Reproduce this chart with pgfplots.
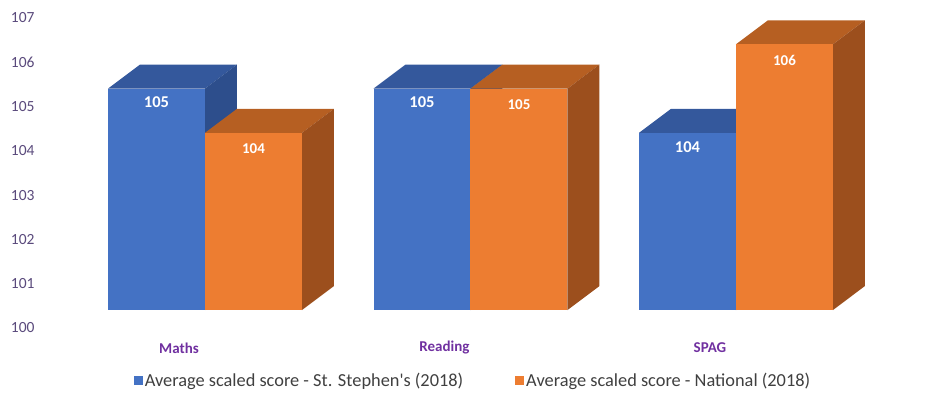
\documentclass[border=0pt]{standalone}
\usepackage{pgfplots}
\pgfplotsset{compat=1.18}
\usepackage{fontspec}
\setmainfont{Carlito}
\definecolor{bfront}{HTML}{4472C4}
\definecolor{btop}{HTML}{34589C}
\definecolor{bside}{HTML}{2D4E8C}
\definecolor{ofront}{HTML}{ED7D31}
\definecolor{otop}{HTML}{B65F22}
\definecolor{oside}{HTML}{9C4F1D}
\definecolor{ticklab}{HTML}{5A4A7C}
\definecolor{catlab}{HTML}{7030A0}
\definecolor{legtext}{HTML}{404040}
% geometry of the 3-D bars (axis units)
\def\bw{0.3653}   % bar width
\def\dx{0.1205}   % depth, x
\def\dy{0.542}    % depth, y
\def\off{0.406}   % front face offset of floor
\pgfplotsset{
  bluetop/.style={fill=btop,draw=none,forget plot},
  blueside/.style={fill=bside,draw=none,forget plot},
  bluefront/.style={fill=bfront,draw=none,forget plot},
  orangetop/.style={fill=otop,draw=none,forget plot},
  orangeside/.style={fill=oside,draw=none,forget plot},
  orangefront/.style={fill=ofront,draw=none,forget plot},
  bluelbl/.style={draw=none,mark=none,forget plot,point meta=explicit symbolic,
    nodes near coords,nodes near coords style={anchor=center,yshift=-14pt,text=white,
    font=\bfseries\fontsize{16.5}{18}\selectfont}},
  orangelbl/.style={draw=none,mark=none,forget plot,point meta=explicit symbolic,
    nodes near coords,nodes near coords style={anchor=center,yshift=-16pt,text=white,
    font=\bfseries\fontsize{15}{17}\selectfont}},
}
% #1 category index, #2 series (0 or 1), #3 value, #4 colour name
\newcommand{\tdbar}[4]{%
  \pgfmathsetmacro\xl{#1+(#2-1)*\bw}%
  \pgfmathsetmacro\xr{\xl+\bw}%
  \pgfmathsetmacro\yb{100+\off}%
  \pgfmathsetmacro\yt{#3+\off}%
  \pgfmathsetmacro\xlb{\xl+\dx}%
  \pgfmathsetmacro\xrb{\xr+\dx}%
  \pgfmathsetmacro\ytb{\yt+\dy}%
  \pgfmathsetmacro\ybb{\yb+\dy}%
  \pgfmathsetmacro\xc{(\xl+\xr)/2}%
  \edef\doit{%
    \noexpand\addplot[#4top] coordinates {(\xl,\yt) (\xr,\yt) (\xrb,\ytb) (\xlb,\ytb)};
    \noexpand\addplot[#4side] coordinates {(\xr,\yb) (\xr,\yt) (\xrb,\ytb) (\xrb,\ybb)};
    \noexpand\addplot[#4front] coordinates {(\xl,\yb) (\xr,\yb) (\xr,\yt) (\xl,\yt)};
    \noexpand\addplot[#4lbl] coordinates {(\xc,\yt) [#3]};
  }\doit
}
\begin{document}
\begin{tikzpicture}
\begin{axis}[
  scale only axis, width=902pt, height=392pt,
  xmin=-0.6215, xmax=2.776, ymin=98.555, ymax=107.406,
  axis line style={draw=none}, tick style={draw=none},
  no markers,
  ytick={100,101,102,103,104,105,106,107},
  /pgf/number format/assume math mode=true,
  yticklabel style={text=ticklab,font=\fontsize{15.5}{17}\selectfont,xshift=-2pt},
  xtick={0,1,2}, xticklabels={Maths,Reading,SPAG},
  xticklabel style={anchor=center,xshift=-26pt,yshift=44pt,text=catlab,
    font=\bfseries\fontsize{15}{17}\selectfont},
  legend style={draw=none,fill=none,at={(0.48,0.029)},anchor=center,
    legend columns=2,font=\fontsize{18.35}{20}\selectfont,text=legtext,
    nodes={inner sep=2pt},
    /tikz/every even column/.append style={column sep=50pt}},
  legend image code/.code={\fill[#1] (0pt,-4.5pt) rectangle (9pt,4.5pt);},
]
\tdbar{0}{0}{105}{blue}
\tdbar{0}{1}{104}{orange}
\tdbar{1}{0}{105}{blue}
\tdbar{1}{1}{105}{orange}
\tdbar{2}{0}{104}{blue}
\tdbar{2}{1}{106}{orange}
\addlegendimage{fill=bfront,draw=none}
\addlegendentry{Average scaled score - St. Stephen\textquotesingle s (2018)}
\addlegendimage{fill=ofront,draw=none}
\addlegendentry{Average scaled score - National (2018)}
\end{axis}
\pgfresetboundingbox
\path[use as bounding box] (-40pt,0pt) rectangle (902pt,392pt);
\end{tikzpicture}
\end{document}
